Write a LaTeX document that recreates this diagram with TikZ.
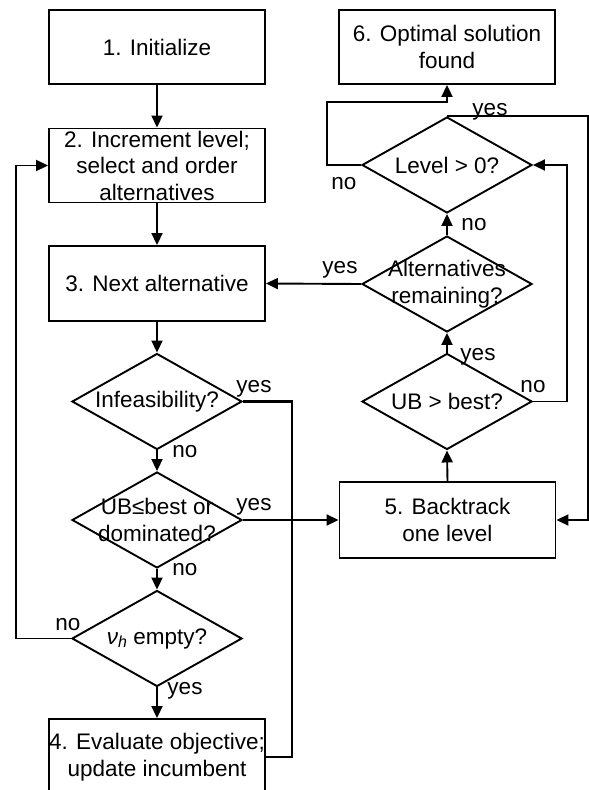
\documentclass[tikz,border=0pt]{standalone}
\usepackage{fontspec}
\setmainfont{Liberation Sans}
\usetikzlibrary{shapes.geometric,arrows.meta}
\begin{document}
\begin{tikzpicture}[x=1pt,y=-1pt,
  font=\fontsize{22.5}{26.5}\selectfont,
  box/.style={draw,line width=1.9pt,minimum width=216pt,inner sep=0pt},
  dia/.style={draw,diamond,line width=1.9pt,minimum width=170pt,minimum height=96pt,inner sep=0pt},
  txt/.style={align=center,inner sep=0pt},
  lbl/.style={anchor=base,inner sep=0pt},
  conn/.style={line width=1.9pt},
  flow/.style={conn,-{Triangle[length=12pt,width=11pt]}}]
\clip (0,0) rectangle (589,790);
% boxes
\node[box,minimum height=74pt] (b1) at (157,47) {};
\node[txt] (tb1) at (b1) {1. Initialize};
\node[box,minimum height=74pt] (b2) at (157,165.5) {};
\node[txt] (tb2) at (b2) {2. Increment level;\\select and order\\alternatives};
\node[box,minimum height=75pt] (b3) at (157,283.5) {};
\node[txt] (tb3) at (b3) {3. Next alternative};
\node[box,minimum height=76pt] (b4) at (157,757) {};
\node[txt] (tb4) at (b4) {4. Evaluate objective;\\update incumbent};
\node[box,minimum height=76pt] (b5) at (447.5,520) {};
\node[txt] (tb5) at (b5) {5. Backtrack\\one level};
\node[box,minimum height=74pt] (b6) at (447,47) {};
\node[txt] (tb6) at (b6) {6. Optimal solution\\found};
% diamonds
\node[dia] (d1) at (157,401.5) {};
\node[txt] (td1) at (d1) {Infeasibility?};
\node[dia] (d2) at (157,520) {};
\node[txt] (td2) at (d2) {UB≤best or\\dominated?};
\node[dia] (d3) at (157,638.5) {};
\node[txt] (td3) at (d3) {{\itshape ν\raisebox{-0.3ex}{\fontsize{16}{16}\selectfont h}} empty?};
\node[dia] (d4) at (447,165) {};
\node[txt] (td4) at (d4) {Level > 0?};
\node[dia] (d5) at (447,284) {};
\node[txt] (td5) at (d5) {Alternatives\\remaining?};
\node[dia] (d6) at (447,401.5) {};
\node[txt] (td6) at (d6) {UB > best?};
% routing coordinates
\coordinate (lx) at (16,0);
\coordinate (rx) at (292,0);
\coordinate (nx) at (567,0);
\coordinate (yx) at (588,0);
\coordinate (ly) at (327,102);
% connectors
\draw[flow] (b1.south) -- (b2.north);
\draw[flow] (b2.south) -- (b3.north);
\draw[flow] (b3.south) -- (d1.north);
\draw[flow] (d1.south) -- (d2.north);
\draw[flow] (d2.south) -- (d3.north);
\draw[flow] (d3.south) -- (b4.north);
\draw[flow] (d3.west) -- (d3.west -| lx) |- (b2.west);
\draw[conn,line width=2.4pt] (d1.east) -- (d1.east -| rx) -- (rx |- b4.east) -- (b4.east);
\draw[flow] (d2.east) -- (b5.west);
\draw[flow] (b5.north) -- (d6.south);
\draw[flow] (d6.north) -- (d5.south);
\draw[flow] (d5.north) -- (d4.south);
\draw[flow] (d5.west) -- (b3.east);
\draw[flow] (d6.east) -- (d6.east -| nx) -- (nx |- d4.east) -- (d4.east);
\draw[flow] (d4.north) -- (d4.north -| yx) -- (yx |- b5.east) -- (b5.east);
\draw[flow] (d4.west) -- (d4.west -| ly) -- (ly) -- (ly -| b6.south) -- (b6.south);
% labels
\node[lbl] (l1) at (254,392) {yes};
\node[lbl] (l2) at (185,457) {no};
\node[lbl] (l3) at (254,510) {yes};
\node[lbl] (l4) at (185,575) {no};
\node[lbl] (l5) at (68,630) {no};
\node[lbl] (l6) at (185,694) {yes};
\node[lbl] (l7) at (344,189) {no};
\node[lbl] (l8) at (490,115) {yes};
\node[lbl] (l9) at (474,230) {no};
\node[lbl] (l10) at (340,273) {yes};
\node[lbl] (l11) at (478,360) {yes};
\node[lbl] (l12) at (533,392) {no};
\end{tikzpicture}
\end{document}
